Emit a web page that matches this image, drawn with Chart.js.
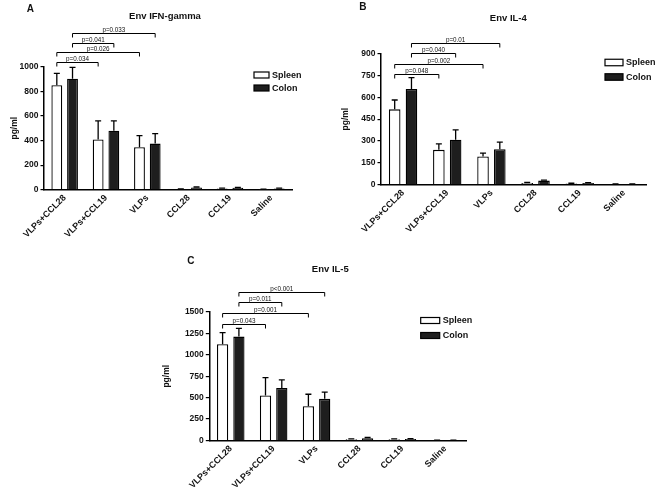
<!DOCTYPE html>
<html>
<head>
<meta charset="utf-8">
<script src="https://cdn.jsdelivr.net/npm/chart.js@4.4.1/dist/chart.umd.min.js"></script>
<style>
  body { margin: 0; background: #fff; }
  #wrap { position: relative; width: 661px; height: 494px; }
  canvas { position: absolute; }
</style>
</head>
<body>
<div id="wrap">
  <canvas id="chartA" width="330" height="250" style="left:0;top:0;width:330px;height:250px"></canvas>
  <canvas id="chartB" width="331" height="250" style="left:330px;top:0;width:331px;height:250px"></canvas>
  <canvas id="chartC" width="330" height="244" style="left:150px;top:250px;width:330px;height:244px"></canvas>
</div>
<script>
let categories = ['VLPs+CCL28', 'VLPs+CCL19', 'VLPs', 'CCL28', 'CCL19', 'Saline'];
let seriesNames = ['Spleen', 'Colon'];

// Env IFN-gamma
let ifnSpleen = [850, 408, 345, 5, 10, 3];
let ifnColon = [902, 480, 375, 17, 15, 10];
let ifnSpleenErr = [96, 152, 95, 2, 2, 1];
let ifnColonErr = [93, 80, 81, 5, 3, 3];
let ifnTicks = [0, 200, 400, 600, 800, 1000];
let ifnPValues = ['p=0.034', 'p=0.026', 'p=0.041', 'p=0.033'];
let ifnPLevels = [1041, 1117, 1195, 1272];

// Env IL-4
let il4Spleen = [517, 239, 194, 12, 8, 5];
let il4Colon = [656, 308, 244, 28, 12, 5];
let il4SpleenErr = [64, 41, 22, 3, 2, 1];
let il4ColonErr = [78, 68, 48, 4, 2, 1];
let il4Ticks = [0, 150, 300, 450, 600, 750, 900];
let il4PValues = ['p=0.048', 'p=0.002', 'p=0.040', 'p=0.01'];
let il4PLevels = [759, 831, 902, 970];

// Env IL-5
let il5Spleen = [1123, 525, 400, 15, 15, 2];
let il5Colon = [1213, 614, 486, 25, 18, 3];
let il5SpleenErr = [136, 210, 140, 5, 3, 1];
let il5ColonErr = [97, 93, 78, 10, 3, 1];
let il5Ticks = [0, 250, 500, 750, 1000, 1250, 1500];
let il5PValues = ['p=0.043', 'p=0.001', 'p=0.011', 'p<0.001'];
let il5PLevels = [1360, 1485, 1613, 1737];

// comparisons: [group, series] -> [group, series]
let pairs = [[0, 0, 1, 0], [0, 0, 2, 0], [0, 1, 1, 1], [0, 1, 2, 1]];

let fontFamily = "'Liberation Sans', Arial, Helvetica, sans-serif";
let ink = '#111';

function makePanel(id, p) {
    let extras = {
        id: 'extras',
        afterDatasetsDraw(chart) {
            let ctx = chart.ctx;
            let yScale = chart.scales.y;
            ctx.save();
            ctx.strokeStyle = '#000';
            ctx.lineWidth = 1.3;
            chart.data.datasets.forEach((ds, d) => {
                chart.getDatasetMeta(d).data.forEach((bar, i) => {
                    let top = yScale.getPixelForValue(ds.data[i] + p.errors[d][i]);
                    ctx.beginPath();
                    ctx.moveTo(bar.x, bar.y);
                    ctx.lineTo(bar.x, top);
                    ctx.moveTo(bar.x - 3, top);
                    ctx.lineTo(bar.x + 3, top);
                    ctx.stroke();
                });
            });
            ctx.restore();
        },
        afterDraw(chart) {
            let ctx = chart.ctx;
            let area = chart.chartArea;
            let yScale = chart.scales.y;
            ctx.save();

            // significance brackets
            ctx.strokeStyle = '#000';
            ctx.lineWidth = 1;
            ctx.fillStyle = ink;
            ctx.font = '6.3px ' + fontFamily;
            ctx.textAlign = 'center';
            ctx.textBaseline = 'alphabetic';
            pairs.forEach((pr, k) => {
                let x1 = chart.getDatasetMeta(pr[1]).data[pr[0]].x;
                let x2 = chart.getDatasetMeta(pr[3]).data[pr[2]].x;
                let yy = Math.round(yScale.getPixelForValue(p.levels[k])) + 0.5;
                ctx.beginPath();
                ctx.moveTo(x1, yy + 4);
                ctx.lineTo(x1, yy);
                ctx.lineTo(x2, yy);
                ctx.lineTo(x2, yy + 4);
                ctx.stroke();
                ctx.fillText(p.pvalues[k], (x1 + x2) / 2, yy - 1.5);
            });

            // legend
            let lx = area.left + p.legendX;
            let ly = area.top + p.legendY;
            ctx.font = 'bold 9px ' + fontFamily;
            ctx.textAlign = 'left';
            ctx.textBaseline = 'middle';
            ctx.lineWidth = 1.2;
            chart.data.datasets.forEach((ds, k) => {
                let cy = ly + k * p.legendGap;
                ctx.fillStyle = ds.backgroundColor;
                ctx.fillRect(lx, cy - p.boxH / 2, p.boxW, p.boxH);
                ctx.strokeRect(lx, cy - p.boxH / 2, p.boxW, p.boxH);
                ctx.fillStyle = ink;
                ctx.fillText(ds.label, lx + p.boxW + 3, cy + 0.5);
            });

            // panel title and letter
            ctx.textBaseline = 'alphabetic';
            ctx.font = 'bold 9.5px ' + fontFamily;
            ctx.textAlign = 'center';
            ctx.fillText(p.title, p.titleX, p.titleY);
            ctx.font = 'bold 10px ' + fontFamily;
            ctx.textAlign = 'left';
            ctx.fillText(p.letter, p.letterX, p.letterY);
            ctx.restore();
        }
    };

    let ticks = p.ticks;
    new Chart(document.getElementById(id), {
        type: 'bar',
        data: {
            labels: categories,
            datasets: [{
                label: seriesNames[0],
                data: p.spleen,
                backgroundColor: '#ffffff',
                borderColor: '#000',
                borderWidth: 1.3,
                categoryPercentage: 0.76,
                barPercentage: 0.69
            }, {
                label: seriesNames[1],
                data: p.colon,
                backgroundColor: '#1e1e1e',
                borderColor: '#000',
                borderWidth: 1.3,
                categoryPercentage: 0.76,
                barPercentage: 0.69
            }]
        },
        options: {
            responsive: false,
            animation: false,
            layout: { padding: { top: p.top, right: p.right, left: 0, bottom: 0 } },
            plugins: { legend: { display: false }, tooltip: { enabled: false } },
            scales: {
                x: {
                    offset: true,
                    grid: { display: false, drawTicks: false },
                    border: { color: '#000', width: 1.5 },
                    ticks: {
                        autoSkip: false, maxRotation: 45, minRotation: 45, padding: 3,
                        color: ink, font: { family: fontFamily, size: 9, weight: 'bold' }
                    },
                    afterFit: s => { s.height = p.xAxisH; }
                },
                y: {
                    min: 0,
                    max: ticks[ticks.length - 1],
                    afterBuildTicks: s => { s.ticks = ticks.map(v => ({ value: v })); },
                    afterFit: s => { s.width = p.yAxisW; },
                    grid: { drawOnChartArea: false, color: '#000', lineWidth: 1.2, tickLength: 3.5 },
                    border: { color: '#000', width: 1.5 },
                    ticks: {
                        padding: 2, color: ink, font: { family: fontFamily, size: 8.5, weight: 'bold' },
                        callback: v => String(v)
                    },
                    title: {
                        display: true, text: 'pg/ml', color: ink,
                        font: { family: fontFamily, size: 8.5, weight: 'bold' },
                        padding: { top: p.yTitlePad, bottom: 0 }
                    }
                }
            }
        },
        plugins: [extras]
    });
}

makePanel('chartA', {
    spleen: ifnSpleen, colon: ifnColon, errors: [ifnSpleenErr, ifnColonErr],
    ticks: ifnTicks, pvalues: ifnPValues, levels: ifnPLevels,
    top: 66.7, right: 38, yAxisW: 44, xAxisH: 60.3, yTitlePad: 9.9,
    title: 'Env IFN-gamma', titleX: 165, titleY: 18.5,
    letter: 'A', letterX: 26.7, letterY: 11.7,
    legendX: 210, legendY: 8.3, legendGap: 13, boxW: 15, boxH: 6
});

makePanel('chartB', {
    spleen: il4Spleen, colon: il4Colon, errors: [il4SpleenErr, il4ColonErr],
    ticks: il4Ticks, pvalues: il4PValues, levels: il4PLevels,
    top: 53.5, right: 15, yAxisW: 51, xAxisH: 65.3, yTitlePad: 10.4,
    title: 'Env IL-4', titleX: 178.3, titleY: 20.5,
    letter: 'B', letterX: 29.3, letterY: 10,
    legendX: 224, legendY: 9, legendGap: 14.5, boxW: 18, boxH: 6.5
});

makePanel('chartC', {
    spleen: il5Spleen, colon: il5Colon, errors: [il5SpleenErr, il5ColonErr],
    ticks: il5Ticks, pvalues: il5PValues, levels: il5PLevels,
    top: 62, right: 13.3, yAxisW: 59.3, xAxisH: 53.5, yTitlePad: 11.6,
    title: 'Env IL-5', titleX: 180.3, titleY: 22.3,
    letter: 'C', letterX: 37.3, letterY: 14,
    legendX: 211.4, legendY: 8.5, legendGap: 15, boxW: 19, boxH: 6
});
</script>
</body>
</html>
